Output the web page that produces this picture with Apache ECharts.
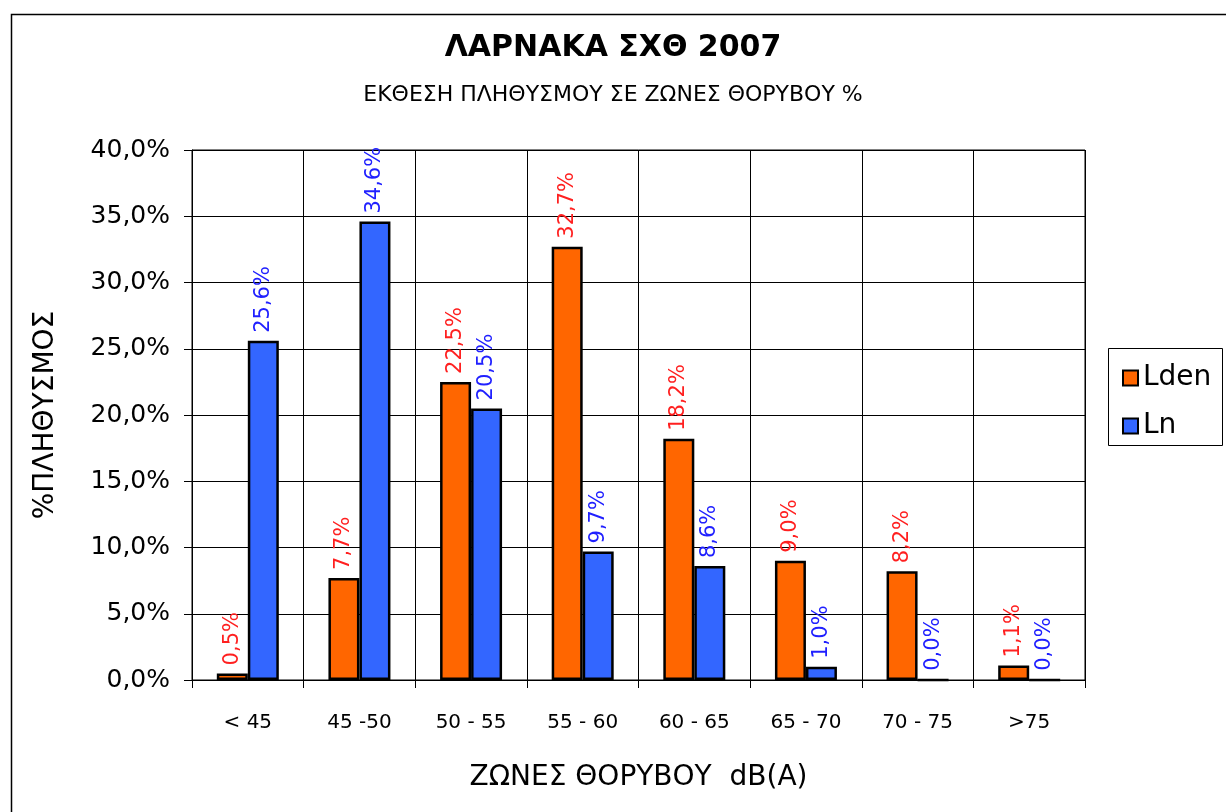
<!DOCTYPE html>
<html><head><meta charset="utf-8">
<script src="https://cdn.jsdelivr.net/npm/echarts@6/dist/echarts.min.js"></script>
<style>html,body{margin:0;padding:0;background:#fff}#c{width:1226px;height:812px}</style>
</head><body><div id="c"></div>
<script>
const categories = ['< 45', '45 -50', '50 - 55', '55 - 60', '60 - 65', '65 - 70', '70 - 75', '>75'];
const ldenValues = [0.5, 7.7, 22.5, 32.7, 18.2, 9.0, 8.2, 1.1];
const lnValues = [25.6, 34.6, 20.5, 9.7, 8.6, 1.0, 0.0, 0.0];
const yTicks = [0, 5, 10, 15, 20, 25, 30, 35, 40];

const FONT = '"DejaVu Sans", sans-serif';
const fmt = v => v.toFixed(1).replace('.', ',') + '%';

const chart = echarts.init(document.getElementById('c'), null, {renderer: 'canvas'});
const labelCfg = color => ({
  show: true, position: 'top', rotate: 90, align: 'left', verticalAlign: 'middle',
  distance: 8, color: color, fontFamily: FONT, fontSize: 21,
  formatter: p => fmt(p.value)
});
chart.setOption({
  backgroundColor: '#fff',
  animation: false,
  title: [
    {text: 'ΛΑΡΝΑΚΑ ΣΧΘ 2007', left: 'center', top: 28, textStyle: {fontFamily: FONT, fontSize: 30, fontWeight: 'bold', color: '#000'}},
    {text: 'ΕΚΘΕΣΗ ΠΛΗΘΥΣΜΟΥ ΣΕ ΖΩΝΕΣ ΘΟΡΥΒΟΥ %', left: 'center', top: 79, textStyle: {fontFamily: FONT, fontSize: 22, fontWeight: 'normal', color: '#000'}}
  ],
  graphic: [
    {type: 'rect', left: 9, top: 12, shape: {width: 1240, height: 820}, style: {fill: 'none', stroke: '#000', lineWidth: 1.5}, z: -1},
    {type: 'rect', left: 1108, top: 348, shape: {width: 114, height: 97}, style: {fill: '#fff', stroke: '#000', lineWidth: 1}, z: 0}
  ],
  legend: {
    orient: 'vertical', left: 1117, top: 359, itemGap: 20, itemWidth: 15, itemHeight: 15,
    icon: 'rect',
    textStyle: {fontFamily: FONT, fontSize: 28, color: '#000'},
    data: ['Lden', 'Ln'], z: 5
  },
  grid: {left: 192, right: 141, top: 150, bottom: 132, show: true, borderColor: '#000', borderWidth: 1},
  xAxis: {
    type: 'category', data: categories,
    name: 'ΖΩΝΕΣ ΘΟΡΥΒΟΥ  dB(A)', nameLocation: 'middle', nameGap: 84,
    nameTextStyle: {fontFamily: FONT, fontSize: 28, color: '#000'},
    axisLine: {lineStyle: {color: '#000', width: 1}},
    axisTick: {show: true, length: 8, lineStyle: {color: '#000'}},
    splitLine: {show: true, lineStyle: {color: '#000', width: 1}},
    axisLabel: {fontFamily: FONT, fontSize: 20, color: '#000', margin: 33}
  },
  yAxis: {
    type: 'value', min: 0, max: 40, interval: 5,
    name: '%ΠΛΗΘΥΣΜΟΣ', nameLocation: 'middle', nameGap: 132, nameRotate: 90,
    nameTextStyle: {fontFamily: FONT, fontSize: 28, color: '#000'},
    axisLine: {show: true, lineStyle: {color: '#000', width: 1}},
    axisTick: {show: true, length: 8, lineStyle: {color: '#000'}},
    splitLine: {show: true, lineStyle: {color: '#000', width: 1}},
    axisLabel: {fontFamily: FONT, fontSize: 25, color: '#000', margin: 22,
      formatter: v => yTicks.includes(v) ? fmt(v) : ''}
  },
  series: [
    {name: 'Lden', type: 'bar', data: ldenValues, barWidth: 31, barGap: '0%',
     itemStyle: {color: '#FF6600', borderColor: '#000', borderWidth: 2.5}, label: labelCfg('#FF2020')},
    {name: 'Ln', type: 'bar', data: lnValues, barWidth: 31,
     itemStyle: {color: '#3366FF', borderColor: '#000', borderWidth: 2.5}, label: labelCfg('#2020FF')}
  ]
});
</script></body></html>
